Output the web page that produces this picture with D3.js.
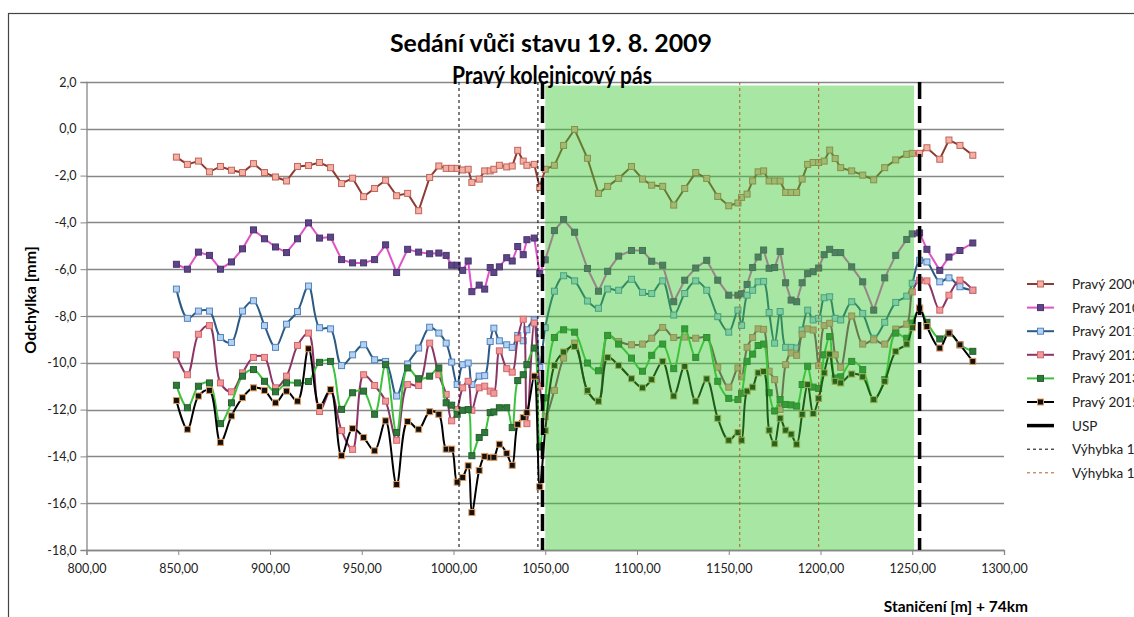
<!DOCTYPE html>
<html>
<head>
<meta charset="utf-8">
<script src="https://cdn.jsdelivr.net/npm/d3@7"></script>
<style>
  body { margin: 0; background: #fff; }
  text { font-family: Lato, "Open Sans", sans-serif; }
</style>
</head>
<body>
<svg id="chart" width="1134" height="617"></svg>
<script>
// stanice [m] + 74 km
const stations = [849,855,861,867,873,879,885,891,897,903,909,915,921,927,933,939,945,951,957,963,969,975,981,987,992,
  996,999,1002,1005,1008,1010,1014,1017,1020,1022,1025,1029,1032,1035,1038,1040,1044,1047,1050,
  1055,1060,1066,1073,1079,1084,1090,1097,1103,1108,1114,1120,1126,1132,1138,1144,1150,
  1155,1157,1160,1163,1166,1169,1172,1175,1178,1181,1184,1187,1190,1193,1196,1199,1202,1205,1208,1211,
  1217,1223,1229,1235,1241,1247,1250,1254,1258,1265,1270,1276,1283];

const p2009 = [-1.21,-1.52,-1.38,-1.84,-1.61,-1.77,-1.87,-1.49,-1.87,-2.06,-2.23,-1.61,-1.57,-1.44,-1.66,-2.34,-2.11,-2.90,-2.55,-2.20,-2.86,-2.76,-3.50,-2.08,-1.59,
  -1.69,-1.69,-1.69,-1.76,-1.73,-2.29,-2.15,-1.80,-1.80,-1.73,-1.56,-1.63,-1.59,-0.92,-1.38,-1.56,-1.52,-2.51,-1.73,
  -1.56,-0.71,-0.03,-1.26,-2.76,-2.46,-2.12,-1.61,-2.15,-2.41,-2.46,-3.26,-2.55,-1.87,-2.12,-2.89,-3.29,
  -3.17,-2.93,-2.79,-2.23,-1.84,-1.80,-2.23,-2.23,-2.23,-2.72,-2.72,-2.72,-2.15,-1.52,-1.44,-1.44,-1.38,-0.91,-1.27,-1.66,
  -1.80,-1.98,-2.18,-1.66,-1.33,-1.09,-1.05,-1.05,-0.81,-1.30,-0.48,-0.71,-1.13];

const p2010 = [-5.79,-6.00,-5.27,-5.41,-6.00,-5.69,-5.13,-4.32,-4.70,-5.05,-5.29,-4.70,-4.02,-4.67,-4.63,-5.59,-5.73,-5.73,-5.59,-4.96,-6.14,-5.15,-5.27,-5.34,-5.31,
  -5.41,-5.83,-5.83,-6.05,-5.65,-6.96,-6.68,-6.85,-5.93,-6.14,-5.90,-5.51,-5.65,-5.03,-5.38,-4.74,-4.67,-6.19,-5.60,
  -4.35,-3.88,-4.42,-5.97,-6.94,-6.09,-5.44,-5.20,-5.20,-5.66,-5.83,-7.39,-6.47,-5.95,-5.62,-6.47,-7.11,
  -7.11,-7.05,-6.65,-5.93,-5.48,-5.18,-5.96,-5.93,-5.24,-6.58,-7.32,-7.39,-6.58,-6.19,-6.11,-5.95,-5.38,-5.15,-5.29,-5.29,
  -5.90,-6.54,-7.75,-6.37,-5.41,-4.73,-4.49,-4.45,-5.15,-6.05,-5.48,-5.20,-4.88];

const p2011 = [-6.85,-8.10,-7.79,-7.79,-8.92,-9.13,-7.79,-7.35,-8.41,-9.34,-8.35,-7.81,-6.72,-8.50,-8.55,-10.12,-9.66,-9.23,-9.87,-9.94,-11.42,-10.05,-9.37,-8.48,-8.73,
  -9.16,-9.97,-10.93,-10.08,-10.01,-10.93,-10.57,-10.55,-9.09,-8.52,-9.06,-9.23,-9.34,-8.83,-9.06,-8.59,-8.17,-10.20,-8.50,
  -6.94,-6.28,-6.50,-7.36,-7.67,-6.85,-6.90,-6.43,-6.99,-7.04,-6.50,-7.96,-7.04,-6.50,-6.90,-8.03,-8.69,
  -7.75,-8.40,-7.11,-6.90,-6.54,-6.52,-7.85,-9.16,-7.81,-9.34,-9.34,-9.37,-8.60,-7.75,-8.17,-8.10,-7.22,-7.18,-8.10,-8.17,
  -7.39,-7.89,-8.95,-8.27,-7.42,-7.15,-6.60,-5.62,-5.69,-6.54,-6.37,-6.75,-6.90];

const p2012 = [-9.66,-10.51,-8.78,-8.41,-10.86,-11.24,-10.43,-9.77,-9.77,-11.07,-10.57,-9.26,-8.73,-12.08,-11.20,-12.90,-13.70,-10.51,-10.97,-11.64,-13.31,-10.93,-10.97,-9.16,-10.51,
  -11.35,-12.48,-12.00,-11.07,-10.79,-12.03,-11.07,-11.00,-11.21,-11.30,-9.49,-10.25,-10.40,-8.95,-8.14,-12.60,-8.30,-11.00,-12.30,
  -11.18,-9.80,-9.16,-11.21,-11.64,-8.83,-9.09,-9.23,-9.20,-8.95,-8.49,-8.92,-8.90,-8.95,-8.92,-10.19,-11.04,
  -10.22,-10.60,-9.34,-8.92,-8.55,-8.57,-10.36,-10.72,-11.99,-10.08,-9.58,-9.68,-8.78,-8.55,-8.60,-10.12,-8.41,-8.31,-9.66,-10.19,
  -8.00,-9.20,-9.02,-9.20,-8.56,-8.35,-6.97,-6.47,-6.50,-7.75,-7.11,-6.47,-6.90];

const p2013 = [-10.96,-11.92,-11.00,-10.86,-12.60,-11.71,-10.57,-10.29,-10.79,-11.24,-10.86,-10.86,-10.80,-9.98,-9.94,-11.99,-11.28,-11.21,-12.20,-10.08,-12.98,-10.22,-10.68,-10.57,-10.22,
  -11.71,-11.81,-12.20,-12.03,-12.00,-13.97,-13.19,-12.98,-12.13,-12.10,-11.92,-11.92,-12.77,-10.76,-10.51,-10.08,-9.37,-13.60,-11.50,
  -8.92,-8.59,-8.69,-10.01,-10.34,-8.83,-9.20,-9.80,-10.36,-9.68,-9.20,-10.25,-8.55,-9.77,-8.92,-10.79,-11.52,
  -11.57,-11.30,-9.94,-9.63,-9.26,-9.20,-11.28,-12.06,-11.57,-11.78,-11.80,-11.85,-10.93,-10.15,-11.04,-11.10,-9.66,-8.88,-10.65,-10.60,
  -9.94,-10.29,-11.57,-10.72,-8.73,-8.95,-8.30,-7.67,-8.27,-8.98,-8.73,-9.23,-9.51];

const p2015 = [-11.61,-12.84,-11.42,-11.18,-13.40,-12.27,-11.49,-11.07,-11.18,-11.71,-11.21,-11.64,-9.40,-11.87,-11.14,-13.97,-12.81,-13.19,-13.76,-12.48,-15.20,-12.51,-12.84,-12.09,-12.20,
  -13.69,-13.69,-15.10,-14.90,-14.40,-16.40,-14.60,-14.00,-14.04,-14.04,-13.48,-13.87,-14.38,-12.63,-12.34,-12.13,-10.57,-15.30,-12.90,
  -10.11,-9.54,-9.30,-11.18,-11.64,-9.77,-10.11,-10.68,-11.07,-10.72,-9.94,-11.42,-10.15,-11.64,-10.69,-12.37,-13.31,
  -12.98,-13.31,-11.21,-11.04,-10.43,-10.37,-12.88,-13.46,-12.37,-12.88,-13.05,-13.48,-12.20,-10.93,-12.17,-11.52,-10.43,-9.63,-10.79,-10.86,
  -10.48,-10.60,-11.57,-10.79,-9.51,-9.20,-8.50,-7.67,-8.45,-9.37,-8.73,-9.23,-9.94];

const seriesNames = ["Pravý 2009", "Pravý 2010", "Pravý 2011", "Pravý 2012", "Pravý 2013", "Pravý 2015"];
const seriesValues = [p2009, p2010, p2011, p2012, p2013, p2015];
const xTicks = d3.range(800, 1301, 50);
const yTicks = d3.range(-18, 2.01, 2);
const uspLines = [1048.5, 1254];
const switchBlack = [1003, 1046];
const switchBrown = [1156, 1199];
const greenZone = [1050, 1251];

// vzhled jednotlivych rad
const styles = [
  { line: "#8c3b32", fill: "#f4b0a4", stroke: "#c0645a", smooth: false },
  { line: "#e052c8", fill: "#5e4585", stroke: "#4a3570", smooth: false },
  { line: "#2b5a85", fill: "#b6d0f0", stroke: "#4f84c0", smooth: true },
  { line: "#8a3566", fill: "#f2999a", stroke: "#d0666a", smooth: true },
  { line: "#3cc23c", fill: "#2f7a3a", stroke: "#24602e", smooth: true },
  { line: "#000000", fill: "#111111", stroke: "#e39a5c", smooth: true }
];

const svg = d3.select("#chart");
const margin = { left: 86.5, right: 1004, top: 82, bottom: 550 };

const x = d3.scaleLinear().domain([800, 1300]).range([margin.left, margin.right]);
const y = d3.scaleLinear().domain([-18, 2]).range([margin.bottom, margin.top]);

// ramecek grafu
svg.append("rect")
  .attr("x", 8.5).attr("y", 13.5)
  .attr("width", 1300).attr("height", 800)
  .attr("fill", "none").attr("stroke", "#444").attr("stroke-width", 1.2);

// mrizka
svg.append("g").selectAll("line").data(yTicks).join("line")
  .attr("x1", margin.left).attr("x2", margin.right)
  .attr("y1", d => Math.round(y(d)) + 0.5).attr("y2", d => Math.round(y(d)) + 0.5)
  .attr("stroke", "#878787").attr("stroke-width", 1.3);

// osy
const fmtY = d => d3.format(".1f")(d).replace(".", ",").replace("−", "-");
const fmtX = d => d3.format(".2f")(d).replace(".", ",");

const yAxis = svg.append("g")
  .attr("transform", `translate(${margin.left},0)`)
  .call(d3.axisLeft(y).tickValues(yTicks).tickSize(6).tickPadding(4).tickFormat(fmtY));
const xAxis = svg.append("g")
  .attr("transform", `translate(0,${margin.bottom})`)
  .call(d3.axisBottom(x).tickValues(xTicks).tickSize(5).tickPadding(9).tickFormat(fmtX));
[yAxis, xAxis].forEach(a => {
  a.select(".domain").attr("stroke", "#878787").attr("stroke-width", 1.3);
  a.selectAll(".tick line").attr("stroke", "#878787");
  a.selectAll("text").attr("font-size", 12.5).attr("fill", "#222")
    .style("font-family", "Lato, sans-serif");
});

// rady
const pts = v => stations.map((s, i) => [s, v[i]]);
seriesValues.forEach((vals, k) => {
  const st = styles[k];
  const line = d3.line()
    .x(d => x(d[0])).y(d => y(d[1]))
    .curve(st.smooth ? d3.curveCatmullRom.alpha(0.5) : d3.curveLinear);
  const g = svg.append("g");
  g.append("path").datum(pts(vals))
    .attr("d", line)
    .attr("fill", "none").attr("stroke", st.line).attr("stroke-width", 2);
  g.selectAll("rect").data(pts(vals)).join("rect")
    .attr("x", d => x(d[0]) - 3).attr("y", d => y(d[1]) - 3)
    .attr("width", 6).attr("height", 6)
    .attr("fill", st.fill).attr("stroke", st.stroke).attr("stroke-width", 1);
});

// zelena oblast (USP)
svg.append("rect")
  .attr("x", x(greenZone[0])).attr("y", y(1.85))
  .attr("width", x(greenZone[1]) - x(greenZone[0]))
  .attr("height", y(-18) - y(1.85))
  .attr("fill", "rgb(60,200,50)").attr("fill-opacity", 0.45);

// svisle cary
svg.append("g").selectAll("line").data(switchBlack).join("line")
  .attr("x1", d => x(d)).attr("x2", d => x(d))
  .attr("y1", y(2)).attr("y2", y(-18))
  .attr("stroke", "#000").attr("stroke-width", 1).attr("stroke-dasharray", "3,3");
svg.append("g").selectAll("line").data(switchBrown).join("line")
  .attr("x1", d => x(d)).attr("x2", d => x(d))
  .attr("y1", y(2)).attr("y2", y(-18))
  .attr("stroke", "#b06030").attr("stroke-width", 1).attr("stroke-dasharray", "3,3");
svg.append("g").selectAll("line").data(uspLines).join("line")
  .attr("x1", d => x(d)).attr("x2", d => x(d))
  .attr("y1", y(2)).attr("y2", y(-18))
  .attr("stroke", "#000").attr("stroke-width", 3.5).attr("stroke-dasharray", "17,7");

// titulky
svg.append("text").attr("x", 551).attr("y", 52).attr("text-anchor", "middle")
  .attr("font-size", 25).attr("font-weight", "bold").attr("fill", "#000")
  .attr("textLength", 322).attr("lengthAdjust", "spacingAndGlyphs")
  .text("Sedání vůči stavu 19. 8. 2009");
svg.append("text").attr("x", 552).attr("y", 84).attr("text-anchor", "middle")
  .attr("font-size", 25).attr("font-weight", "bold").attr("fill", "#000")
  .attr("textLength", 200).attr("lengthAdjust", "spacingAndGlyphs")
  .text("Pravý kolejnicový pás");
svg.append("text")
  .attr("transform", "translate(36,300) rotate(-90)")
  .attr("text-anchor", "middle").attr("font-size", 16).attr("font-weight", "bold")
  .text("Odchylka [mm]");
svg.append("text").attr("x", 1028).attr("y", 612).attr("text-anchor", "end")
  .attr("font-size", 15.5).attr("font-weight", "bold")
  .text("Staničení [m] + 74km");

// legenda
const legendItems = seriesNames.map((n, k) => ({ name: n, type: "series", st: styles[k] }))
  .concat([
    { name: "USP", type: "usp" },
    { name: "Výhybka 1", type: "dash", color: "#000" },
    { name: "Výhybka 1", type: "dash", color: "#b06030" }
  ]);
const leg = svg.append("g").selectAll("g").data(legendItems).join("g")
  .attr("transform", (d, i) => `translate(1027,${284 + i * 23.6})`);
leg.each(function (d) {
  const g = d3.select(this);
  if (d.type === "series") {
    g.append("line").attr("x1", 0).attr("x2", 27).attr("stroke", d.st.line).attr("stroke-width", 2);
    g.append("rect").attr("x", 10.5).attr("y", -3).attr("width", 6).attr("height", 6)
      .attr("fill", d.st.fill).attr("stroke", d.st.stroke);
  } else if (d.type === "usp") {
    g.append("line").attr("x1", 0).attr("x2", 27).attr("stroke", "#000").attr("stroke-width", 3.5);
  } else {
    g.append("line").attr("x1", 0).attr("x2", 27).attr("stroke", d.color)
      .attr("stroke-width", 1).attr("stroke-dasharray", "3,3");
  }
  g.append("text").attr("x", 45).attr("y", 5).attr("font-size", 13.5).attr("fill", "#222").text(d.name);
});
</script>
</body>
</html>
